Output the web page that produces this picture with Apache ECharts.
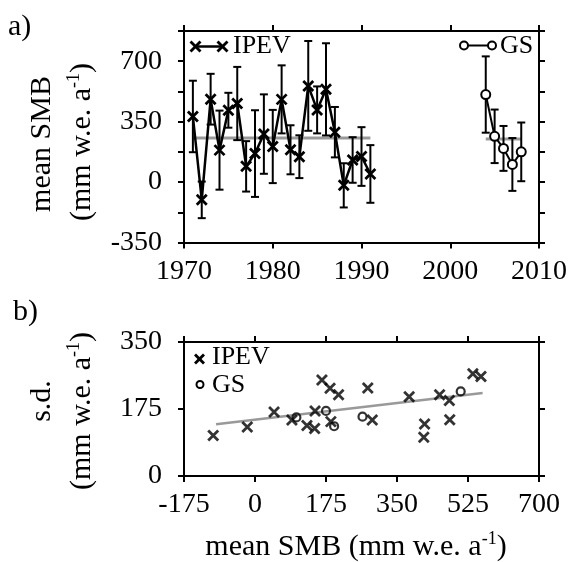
<!DOCTYPE html>
<html>
<head>
<meta charset="utf-8">
<script src="https://cdn.jsdelivr.net/npm/echarts@6/dist/echarts.min.js"></script>
<style>html,body{margin:0;padding:0;background:#fff}#c{width:570px;height:562px}</style>
</head>
<body>
<div id="c"></div>
<script>
// ---- data ----
const ipevYears = [1971,1972,1973,1974,1975,1976,1977,1978,1979,1980,1981,1982,1983,1984,1985,1986,1987,1988,1989,1990,1991];
const ipevMean  = [380,-103,480,185,416,455,91,165,278,206,479,187,147,557,418,537,289,-19,128,148,47];
const ipevSd    = [207,106,147,229,101,212,146,251,230,212,197,142,124,260,136,267,146,128,132,170,167];
const gsYears = [2004,2005,2006,2007,2008];
const gsMean  = [507,265,195,102,175];
const gsSd    = [221,155,130,153,170];
const ipevAvg = 255;
const gsAvg = 250;
const fitX = [-96, 561];
const fitY = [135, 217];
const yearTicks = [1970,1980,1990,2000,2010];
const smbTicks = [-350,0,350,700];
const sdTicks = [0,175,350];
const smbXTicks = [-175,0,175,350,525,700];

const FONT = '"Liberation Serif", "Times New Roman", serif';
const chart = echarts.init(document.getElementById('c'), null, {renderer:'canvas'});

const xPath = 'path://M0,0L10,10M10,0L0,10';
const axisCommon = {
  axisLine:{onZero:false, lineStyle:{color:'#000', width:2}},
  axisTick:{show:true, inside:false, length:6, lineStyle:{color:'#000', width:2}},
  splitLine:{show:false}
};
const labelStyle = {color:'#000', fontFamily:FONT, fontSize:28};

function errRender(params, api){
  const x = api.value(0), m = api.value(1), s = api.value(2);
  const t = api.coord([x, m + s]), b = api.coord([x, m - s]);
  const w = 4;
  const st = {stroke:'#000', lineWidth:2};
  return {type:'group', children:[
    {type:'line', shape:{x1:t[0], y1:t[1], x2:b[0], y2:b[1]}, style:st},
    {type:'line', shape:{x1:t[0]-w, y1:t[1], x2:t[0]+w, y2:t[1]}, style:st},
    {type:'line', shape:{x1:b[0]-w, y1:b[1], x2:b[0]+w, y2:b[1]}, style:st}
  ]};
}

const subTitle = {
  text:'{n|(mm w.e. a}{s|-1}{n|)}',
  rich:{ n:{fontFamily:FONT, fontSize:30, fill:'#000', lineHeight:34},
         s:{fontFamily:FONT, fontSize:18, fill:'#000', lineHeight:22, verticalAlign:'top'} }
};

function xMark(cx, cy, h){
  return {type:'group', children:[
    {type:'line', shape:{x1:cx-h, y1:cy-h, x2:cx+h, y2:cy+h}, style:{stroke:'#000', lineWidth:2.8}},
    {type:'line', shape:{x1:cx-h, y1:cy+h, x2:cx+h, y2:cy-h}, style:{stroke:'#000', lineWidth:2.8}}
  ]};
}
function oMark(cx, cy, r){
  return {type:'circle', shape:{cx:cx, cy:cy, r:r}, style:{fill:'#fff', stroke:'#000', lineWidth:2}, z:10};
}

const option = {
  animation:false,
  backgroundColor:'#fff',
  grid:[
    {left:184, top:31, width:355, height:211.5},
    {left:184, top:342, width:355, height:134}
  ],
  xAxis:[
    Object.assign({gridIndex:0, type:'value', min:1970, max:2010, interval:10, position:'bottom',
      axisLabel:Object.assign({margin:15, showMinLabel:true, showMaxLabel:true,
        formatter:v => yearTicks.includes(v) ? String(v) : ''}, labelStyle)}, axisCommon),
    Object.assign({gridIndex:0, type:'value', min:1970, max:2010, interval:10, position:'top',
      axisLabel:{show:false}}, axisCommon),
    Object.assign({gridIndex:1, type:'value', min:-175, max:700, interval:175, position:'bottom',
      axisLabel:Object.assign({margin:15, showMinLabel:true, showMaxLabel:true,
        formatter:v => smbXTicks.includes(v) ? String(v) : ''}, labelStyle)}, axisCommon),
    Object.assign({gridIndex:1, type:'value', min:-175, max:700, interval:175, position:'top',
      axisLabel:{show:false}}, axisCommon)
  ],
  yAxis:[
    Object.assign({gridIndex:0, type:'value', min:-350, max:875, interval:175, position:'left',
      axisLabel:Object.assign({margin:22, showMinLabel:true, showMaxLabel:true,
        formatter:v => smbTicks.includes(v) ? String(v) : ''}, labelStyle)}, axisCommon),
    Object.assign({gridIndex:0, type:'value', min:-350, max:875, interval:175, position:'right',
      axisLabel:{show:false}}, axisCommon),
    Object.assign({gridIndex:1, type:'value', min:0, max:350, interval:175, position:'left',
      axisLabel:Object.assign({margin:22, showMinLabel:true, showMaxLabel:true,
        formatter:v => sdTicks.includes(v) ? String(v) : ''}, labelStyle)}, axisCommon),
    Object.assign({gridIndex:1, type:'value', min:0, max:350, interval:175, position:'right',
      axisLabel:{show:false}}, axisCommon)
  ],
  series:[
    {type:'line', xAxisIndex:0, yAxisIndex:0, data:[[ipevYears[0], ipevAvg],[ipevYears[ipevYears.length-1], ipevAvg]],
     symbol:'none', lineStyle:{color:'#999', width:3}, z:1, silent:true},
    {type:'line', xAxisIndex:0, yAxisIndex:0, data:[[gsYears[0], gsAvg],[gsYears[gsYears.length-1], gsAvg]],
     symbol:'none', lineStyle:{color:'#999', width:3}, z:1, silent:true},
    {type:'custom', xAxisIndex:0, yAxisIndex:0, renderItem:errRender, z:2,
     encode:{x:0, y:1}, data:ipevYears.map((y,i)=>[y, ipevMean[i], ipevSd[i]])},
    {type:'custom', xAxisIndex:0, yAxisIndex:0, renderItem:errRender, z:2,
     encode:{x:0, y:1}, data:gsYears.map((y,i)=>[y, gsMean[i], gsSd[i]])},
    {type:'line', xAxisIndex:0, yAxisIndex:0, data:ipevYears.map((y,i)=>[y, ipevMean[i]]),
     symbol:xPath, symbolSize:10, showAllSymbol:true,
     itemStyle:{color:'rgba(0,0,0,0)', borderColor:'#000', borderWidth:2.8},
     lineStyle:{color:'#000', width:2.5}, z:3},
    {type:'line', xAxisIndex:0, yAxisIndex:0, data:gsYears.map((y,i)=>[y, gsMean[i]]),
     symbol:'circle', symbolSize:9, showAllSymbol:true,
     itemStyle:{color:'#fff', borderColor:'#000', borderWidth:2},
     lineStyle:{color:'#000', width:2}, z:3},
    {type:'line', xAxisIndex:2, yAxisIndex:2, data:fitX.map((x,i)=>[x, fitY[i]]),
     symbol:'none', lineStyle:{color:'#999', width:2.5}, z:1},
    {type:'scatter', xAxisIndex:2, yAxisIndex:2, data:ipevMean.map((m,i)=>[m, ipevSd[i]]),
     symbol:xPath, symbolSize:10,
     itemStyle:{color:'rgba(0,0,0,0)', borderColor:'#000', borderWidth:2.8}, z:3},
    {type:'scatter', xAxisIndex:2, yAxisIndex:2, data:gsMean.map((m,i)=>[m, gsSd[i]]),
     symbol:'circle', symbolSize:8,
     itemStyle:{color:'rgba(0,0,0,0)', borderColor:'#000', borderWidth:2.2}, z:3}
  ],
  graphic:[
    {type:'text', left:8, top:12, style:{text:'a)', fontFamily:FONT, fontSize:30, fill:'#000'}},
    {type:'text', left:13, top:297, style:{text:'b)', fontFamily:FONT, fontSize:30, fill:'#000'}},
    {type:'text', x:42, y:144, rotation:Math.PI/2,
     style:{text:'mean SMB', fontFamily:FONT, fontSize:30, fill:'#000', align:'center', verticalAlign:'middle'}},
    {type:'text', x:82, y:142, rotation:Math.PI/2,
     style:Object.assign({align:'center', verticalAlign:'middle'}, subTitle)},
    {type:'text', x:42, y:401, rotation:Math.PI/2,
     style:{text:'s.d.', fontFamily:FONT, fontSize:30, fill:'#000', align:'center', verticalAlign:'middle'}},
    {type:'text', x:82, y:411, rotation:Math.PI/2,
     style:Object.assign({align:'center', verticalAlign:'middle'}, subTitle)},
    {type:'text', x:356, y:547,
     style:{text:'{n|mean SMB (mm w.e. a}{s|-1}{n|)}', rich:subTitle.rich, align:'center', verticalAlign:'middle'}},
    // legend panel a
    {type:'line', shape:{x1:195.5, y1:46.5, x2:222.5, y2:46.5}, style:{stroke:'#000', lineWidth:2.5}},
    xMark(195.5, 46.5, 5), xMark(222.5, 46.5, 5),
    {type:'text', x:233, y:46, style:{text:'IPEV', fontFamily:FONT, fontSize:26, fill:'#000', verticalAlign:'middle'}},
    {type:'line', shape:{x1:464, y1:45.5, x2:492, y2:45.5}, style:{stroke:'#000', lineWidth:2}},
    oMark(464, 45.5, 4), oMark(492, 45.5, 4),
    {type:'text', x:500, y:46, style:{text:'GS', fontFamily:FONT, fontSize:26, fill:'#000', verticalAlign:'middle'}},
    // legend panel b
    xMark(199.5, 359, 4.5),
    {type:'text', x:212, y:357, style:{text:'IPEV', fontFamily:FONT, fontSize:26, fill:'#000', verticalAlign:'middle'}},
    oMark(200, 384.5, 3.5),
    {type:'text', x:212, y:385, style:{text:'GS', fontFamily:FONT, fontSize:26, fill:'#000', verticalAlign:'middle'}}
  ]
};
chart.setOption(option);
</script>
</body>
</html>
